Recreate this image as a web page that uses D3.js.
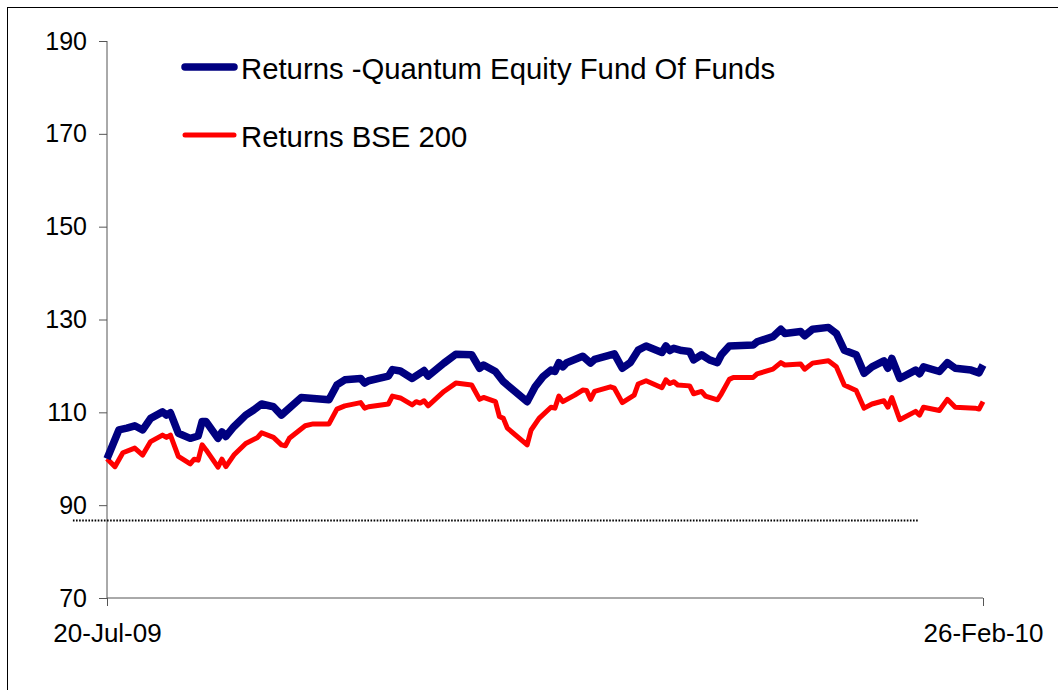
<!DOCTYPE html>
<html>
<head>
<meta charset="utf-8">
<script src="https://cdn.jsdelivr.net/npm/d3@7"></script>
<style>
  html, body { margin: 0; padding: 0; background: #fff; }
  svg { display: block; }
  text { font-family: Arial, "Liberation Sans", sans-serif; fill: #000; }
</style>
</head>
<body>
<div id="chart"></div>
<script>
// ---- Data (day offsets from 20-Jul-09) ----
const startDate = "2009-07-20";
const endDate = "2010-02-26";
const xTickLabels = ["20-Jul-09", "26-Feb-10"];
const yTicks = [70, 90, 110, 130, 150, 170, 190];
const seriesNames = ["Returns -Quantum Equity Fund Of Funds", "Returns BSE 200"];

const fundDays = [0,3,5,7,9,11,14,15,16,18,21,23,24,25,28,29,30,32,35,37,39,42,44,49,56,58,60,64,65,66,71,72,74,77,80,81,85,88,92,94,95,98,100,106,108,110,112,113,114,115,116,120,122,123,128,130,132,134,136,140,141,142,143,145,147,148,150,152,154,155,157,163,164,168,170,171,175,176,178,182,184,186,189,191,193,196,197,198,200,204,205,206,210,212,214,218,220,221];
const fundValues = [100.0,106.2,106.6,107.1,106.2,108.7,110.1,109.4,109.9,105.5,104.4,104.9,108.0,108.0,104.4,105.8,104.8,106.9,109.4,110.5,111.8,111.2,109.4,113.2,112.7,115.9,117.0,117.3,116.3,116.8,117.8,119.2,118.9,117.3,119.0,117.8,120.6,122.5,122.4,119.5,120.2,118.8,116.6,112.3,115.5,117.7,119.1,118.8,120.7,119.8,120.7,122.1,120.6,121.4,122.6,119.5,120.7,123.4,124.3,122.9,124.3,123.3,123.8,123.3,123.1,121.3,122.4,121.3,120.7,122.4,124.3,124.5,125.2,126.3,127.9,127.0,127.4,126.5,127.9,128.3,127.0,123.4,122.4,118.4,119.8,121.1,119.5,121.6,117.3,119.1,118.3,119.8,118.8,120.7,119.5,119.1,118.5,120.2];

const bseDays = [0,2,4,7,9,11,14,15,16,18,21,22,23,24,25,28,29,30,32,35,38,39,42,44,45,46,50,52,56,58,60,64,65,66,71,72,74,77,78,79,80,81,85,88,92,94,95,98,99,100,101,106,107,109,112,113,114,115,118,120,121,122,123,127,128,130,133,134,136,140,141,142,143,144,147,148,150,151,154,155,157,158,163,164,168,170,171,175,176,178,182,184,186,189,191,193,196,197,198,200,204,205,206,210,212,214,219,220,221];
const bseValues = [100.0,98.3,101.3,102.3,100.8,103.7,105.1,104.6,105.1,100.5,98.9,99.9,99.7,103.0,101.9,98.2,99.9,98.3,100.8,103.3,104.6,105.6,104.6,103.0,102.8,104.4,107.1,107.5,107.5,110.7,111.4,112.1,110.9,111.2,111.8,113.5,113.1,111.6,112.3,112.0,112.5,111.4,114.5,116.3,115.9,112.8,113.2,112.3,109.1,108.7,106.6,103.0,106.2,108.7,111.1,110.9,113.5,112.3,113.7,114.8,114.7,112.8,114.5,115.5,115.2,112.1,113.7,116.1,116.8,115.3,117.0,116.2,116.6,115.9,115.7,114.0,114.5,113.5,112.7,114.0,117.1,117.5,117.5,118.3,119.3,120.7,120.2,120.4,119.3,120.6,121.1,119.8,115.9,114.7,110.9,111.8,112.5,111.1,113.2,108.4,110.2,109.4,111.1,110.4,112.8,111.1,110.9,110.7,112.3];

// dotted reference line (value and day span)
const refLevel = 86.8;
const refSpan = [-8.6, 204.6];

// ---- Layout ----
const W = 1058, H = 690;
const parse = d3.timeParse("%Y-%m-%d");
const t0 = parse(startDate), t1 = parse(endDate);
const dayToDate = d => new Date(t0.getTime() + d * 86400000);

const x = d3.scaleTime().domain([t0, t1]).range([107, 983]);
const y = d3.scaleLinear().domain([70, 190]).range([598, 41]);

const svg = d3.select("#chart").append("svg").attr("width", W).attr("height", H);

// outer frame
svg.append("rect").attr("x", 7.5).attr("y", 7.5).attr("width", 1200).attr("height", 900)
  .attr("fill", "none").attr("stroke", "#000").attr("stroke-width", 1);

// y axis
const yAxis = d3.axisLeft(y).tickValues(yTicks).tickSize(8).tickPadding(12).tickFormat(d3.format("d"));
const gy = svg.append("g").attr("transform", "translate(107,0)").call(yAxis);
gy.select(".domain").attr("stroke", "#555").attr("d", `M0,${y(190)}V${y(70)}`);
gy.selectAll(".tick line").attr("stroke", "#555");
gy.selectAll(".tick text").attr("font-size", 25).attr("font-family", "Arial, 'Liberation Sans', sans-serif").attr("fill", "#000");

// x axis
const xAxis = d3.axisBottom(x).tickValues([t0, t1]).tickSize(8).tickPadding(18)
  .tickFormat((d, i) => xTickLabels[i]);
const gx = svg.append("g").attr("transform", `translate(0,${y(70)})`).call(xAxis);
gx.select(".domain").attr("stroke", "#555").attr("d", `M${x(t0)},0H${x(t1)}`);
gx.selectAll(".tick line").attr("stroke", "#555");
gx.selectAll(".tick text").attr("font-size", 26).attr("font-family", "Arial, 'Liberation Sans', sans-serif").attr("fill", "#000");

// dotted reference line
svg.append("line")
  .attr("x1", x(dayToDate(refSpan[0]))).attr("x2", x(dayToDate(refSpan[1])))
  .attr("y1", Math.round(y(refLevel)) + 0.5).attr("y2", Math.round(y(refLevel)) + 0.5)
  .attr("stroke", "#000").attr("stroke-width", 2).attr("stroke-dasharray", "1.6,1.5");

const line = d3.line().x(d => x(dayToDate(d[0]))).y(d => y(d[1]));

const bse = bseDays.map((d, i) => [d, bseValues[i]]);
const fund = fundDays.map((d, i) => [d, fundValues[i]]);

svg.append("path").datum(bse).attr("d", line).attr("fill", "none")
  .attr("stroke", "#FF0000").attr("stroke-width", 5).attr("stroke-linejoin", "round");
svg.append("path").datum(fund).attr("d", line).attr("fill", "none")
  .attr("stroke", "#000080").attr("stroke-width", 7.5).attr("stroke-linejoin", "round");

// legend
const legend = [
  { name: seriesNames[0], color: "#000080", w: 7.5, y: 67 },
  { name: seriesNames[1], color: "#FF0000", w: 5, y: 135 }
];
const lg = svg.append("g");
legend.forEach(l => {
  lg.append("line").attr("x1", 185).attr("x2", 234).attr("y1", l.y).attr("y2", l.y)
    .attr("stroke", l.color).attr("stroke-width", l.w).attr("stroke-linecap", "round");
  lg.append("text").attr("x", 241).attr("y", l.y + 12).attr("font-size", 29.3).text(l.name);
});
</script>
</body>
</html>
